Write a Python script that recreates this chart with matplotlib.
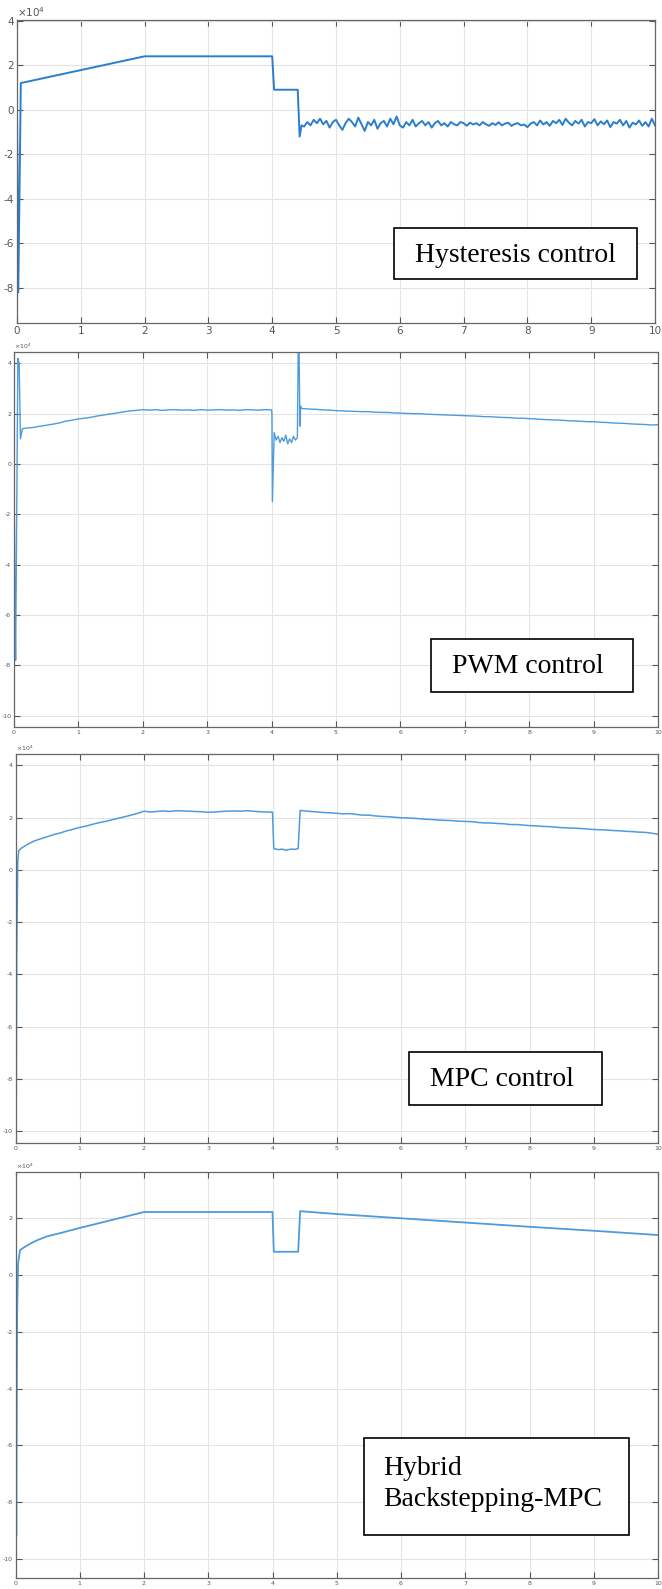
import numpy as np
import matplotlib
matplotlib.use("Agg")
import matplotlib.pyplot as plt
from matplotlib.patches import Rectangle

plt.rcParams["axes.unicode_minus"] = False

# ---- Hysteresis control (values in 1e4 units) ----
hyst_head_t = [0.0, 0.02, 0.06, 2.0, 4.0, 4.03, 4.40, 4.43, 4.46]
hyst_head_y = [0.0, -8.2, 1.2, 2.4, 2.4, 0.9, 0.9, -1.2, -0.7]
hyst_noise_start, hyst_noise_step = 4.50, 0.05
hyst_noise_y = [
    -0.75, -0.55, -0.70, -0.45, -0.60, -0.40, -0.65, -0.50, -0.80, -0.55,
    -0.45, -0.70, -0.90, -0.60, -0.40, -0.55, -0.75, -0.35, -0.65, -0.95,
    -0.55, -0.70, -0.45, -0.85, -0.60, -0.50, -0.75, -0.40, -0.65, -0.30,
    -0.70,
    -0.80, -0.55, -0.70, -0.45, -0.75, -0.60, -0.50, -0.70, -0.55, -0.80,
    -0.60, -0.50, -0.70, -0.60, -0.75, -0.55, -0.65, -0.70, -0.55, -0.60,
    -0.72, -0.58, -0.66, -0.60, -0.70, -0.55, -0.65, -0.72, -0.60, -0.68,
    -0.56, -0.70, -0.62, -0.58, -0.72, -0.64, -0.60, -0.70, -0.66, -0.78,
    -0.62, -0.55, -0.70, -0.48, -0.66, -0.55, -0.72, -0.50, -0.60, -0.45,
    -0.68, -0.40, -0.58, -0.70, -0.50, -0.62, -0.45, -0.75, -0.55, -0.60,
    -0.42, -0.70, -0.52, -0.65, -0.48, -0.78, -0.55, -0.62, -0.45, -0.70,
    -0.50, -0.80, -0.58, -0.66, -0.48, -0.72, -0.55, -0.75, -0.40, -0.70,
]

# ---- PWM control ----
pwm_head_t = [0.0, 0.015, 0.025, 0.06, 0.08, 0.10, 0.13]
pwm_head_y = [0.0, -5.5, -7.8, 4.2, 4.0, 1.0, 1.4]
pwm_rise_start = 0.2
pwm_rise_y = [
    1.43, 1.45, 1.50, 1.54, 1.58, 1.63, 1.70, 1.74, 1.79,
    1.82, 1.86, 1.91, 1.95, 1.99, 2.03, 2.07, 2.11, 2.13, 2.16,
    2.14, 2.16, 2.13, 2.15, 2.16, 2.14, 2.15, 2.13, 2.16, 2.14,
    2.15, 2.16, 2.14, 2.15, 2.13, 2.16, 2.15, 2.14, 2.16, 2.15,
]
pwm_dip_t = [4.005, 4.012, 4.04, 4.07, 4.10, 4.13, 4.16, 4.19, 4.22, 4.25,
             4.28, 4.31, 4.34, 4.37, 4.40, 4.415, 4.425, 4.44, 4.45, 4.47]
pwm_dip_y = [2.0, -1.5, 1.25, 0.95, 1.1, 0.85, 1.05, 0.9, 1.15, 0.8,
             1.0, 0.85, 1.1, 0.95, 1.05, 5.0, 4.8, 1.5, 2.3, 2.2]
pwm_tail_start = 4.5
pwm_tail_y = [
    2.20, 2.18, 2.17, 2.15, 2.14, 2.12,
    2.11, 2.10, 2.09, 2.08, 2.08, 2.06, 2.05, 2.05, 2.03, 2.02,
    2.01, 2.00, 2.00, 1.98, 1.97, 1.96, 1.95, 1.94, 1.93, 1.92,
    1.91, 1.90, 1.88, 1.88, 1.86, 1.85, 1.84, 1.82, 1.82, 1.80,
    1.79, 1.77, 1.76, 1.75, 1.74, 1.72, 1.71, 1.70, 1.68, 1.68,
    1.66, 1.65, 1.63, 1.62, 1.61, 1.59, 1.58, 1.57, 1.55, 1.56,
]

# ---- MPC control ----
mpc_head_t = [0.0, 0.012, 0.02, 0.035, 0.05]
mpc_head_y = [0.0, -8.8, -3.0, 0.3, 0.75]
mpc_rise_start = 0.1
mpc_rise_y = [
    0.85, 1.00, 1.12, 1.20, 1.28, 1.36, 1.42, 1.50, 1.56, 1.63,
    1.68, 1.75, 1.81, 1.86, 1.92, 1.98, 2.04, 2.10, 2.17, 2.25,
    2.22, 2.24, 2.26, 2.24, 2.27, 2.26, 2.25, 2.24, 2.23, 2.21,
    2.22, 2.24, 2.25, 2.26, 2.25, 2.27, 2.25, 2.23, 2.22, 2.21,
]
mpc_dip_t = [4.02, 4.05, 4.10, 4.15, 4.20, 4.25, 4.30, 4.35, 4.40, 4.43]
mpc_dip_y = [0.82, 0.80, 0.78, 0.80, 0.76, 0.78, 0.80, 0.79, 0.82, 2.28]
mpc_tail_start = 4.5
mpc_tail_y = [
    2.26, 2.24, 2.22, 2.20, 2.19, 2.17,
    2.15, 2.16, 2.13, 2.10, 2.10, 2.07, 2.05, 2.04, 2.02, 2.00,
    1.99, 1.98, 1.96, 1.94, 1.93, 1.91, 1.90, 1.89, 1.87, 1.86,
    1.85, 1.82, 1.80, 1.80, 1.78, 1.77, 1.74, 1.74, 1.72, 1.70,
    1.69, 1.67, 1.66, 1.64, 1.62, 1.61, 1.60, 1.59, 1.57, 1.55,
    1.54, 1.53, 1.51, 1.50, 1.48, 1.47, 1.45, 1.44, 1.41, 1.37,
]

# ---- Hybrid Backstepping-MPC ----
hyb_t = [0.0, 0.012, 0.025, 0.04, 0.07, 0.15, 0.25, 0.35, 0.5, 0.7, 1.0,
         1.5, 2.0, 4.0, 4.02, 4.4, 4.43, 5.0, 6.0, 7.0, 8.0, 9.0, 10.0]
hyb_y = [0.0, -9.2, -1.5, 0.4, 0.88, 1.0, 1.13, 1.24, 1.37, 1.48, 1.66,
         1.94, 2.22, 2.22, 0.82, 0.82, 2.25, 2.15, 2.0, 1.85, 1.7, 1.56, 1.41]

xticks = list(range(0, 11))
labels = ["Hysteresis control", "PWM control", "MPC control",
          "Hybrid\nBackstepping-MPC"]


def grid_series(start, step, values):
    t = start + step * np.arange(len(values))
    return t, np.asarray(values)


def join(*parts):
    t = np.concatenate([np.asarray(p[0], float) for p in parts])
    y = np.concatenate([np.asarray(p[1], float) for p in parts])
    return t, y


series = [
    join((hyst_head_t, hyst_head_y),
         grid_series(hyst_noise_start, hyst_noise_step, hyst_noise_y)),
    join((pwm_head_t, pwm_head_y),
         grid_series(pwm_rise_start, 0.1, pwm_rise_y),
         (pwm_dip_t, pwm_dip_y),
         grid_series(pwm_tail_start, 0.1, pwm_tail_y)),
    join((mpc_head_t, mpc_head_y),
         grid_series(mpc_rise_start, 0.1, mpc_rise_y),
         (mpc_dip_t, mpc_dip_y),
         grid_series(mpc_tail_start, 0.1, mpc_tail_y)),
    (np.array(hyb_t), np.array(hyb_y)),
]

W, H = 662, 1589
fig = plt.figure(figsize=(W / 100, H / 100), dpi=100)

# axes boxes in pixels: left, right, top, bottom
boxes = [(17, 655, 20, 323), (14, 658, 352, 727),
         (15.5, 658, 754, 1143), (15.5, 658, 1172, 1578)]
ylims = [(-9.57, 4.03), (-10.45, 4.45), (-10.45, 4.44), (-10.67, 3.63)]
yticks = [range(-8, 5, 2), range(-10, 5, 2), range(-10, 5, 2), range(-10, 3, 2)]
colors = ["#2a7fcc", "#4d9bdc", "#4d9bdc", "#4d9bdc"]
widths = [1.4, 1.0, 1.1, 1.3]
tick_fs = [7.5, 4.5, 4.5, 4.5]

for i, (l, r, t, b) in enumerate(boxes):
    ax = fig.add_axes([l / W, 1 - b / H, (r - l) / W, (b - t) / H])
    x, y = series[i]
    ax.plot(x, y, color=colors[i], lw=widths[i])
    ax.set_xlim(0, 10)
    ax.set_ylim(*ylims[i])
    ax.set_xticks(xticks)
    ax.set_yticks(list(yticks[i]))
    ax.grid(True, color="#e4e4e4", lw=0.8)
    ax.set_axisbelow(True)
    ax.tick_params(direction="in", top=True, right=True, length=4,
                   width=0.8, color="#555555", labelsize=tick_fs[i],
                   labelcolor="#555555", pad=2)
    for s in ax.spines.values():
        s.set_color("#666666")
        s.set_linewidth(0.9)
    ax.text(0.0, 1.003, r"$\times10^4$", transform=ax.transAxes,
            fontsize=tick_fs[i], color="#555555", va="bottom", ha="left")

# label boxes (pixels): left, right, top, bottom, text x, text y, ha
label_boxes = [
    (394, 637, 228, 279, 515, 255, "center"),
    (431, 633, 639, 692, 528, 667, "center"),
    (409, 602, 1052, 1105, 502, 1080, "center"),
    (364, 629, 1438, 1535, 383, 1484, "left"),
]
for (l, r, t, b, tx, ty, ha), txt in zip(label_boxes, labels):
    fig.patches.append(Rectangle((l / W, 1 - b / H), (r - l) / W, (b - t) / H,
                                 transform=fig.transFigure, fill=True,
                                 facecolor="white", edgecolor="black", lw=1.2))
    fig.text(tx / W, 1 - ty / H, txt, ha=ha, va="center",
             family="Liberation Serif", fontsize=20, linespacing=1.3)

fig.savefig("out.png", dpi=100)
